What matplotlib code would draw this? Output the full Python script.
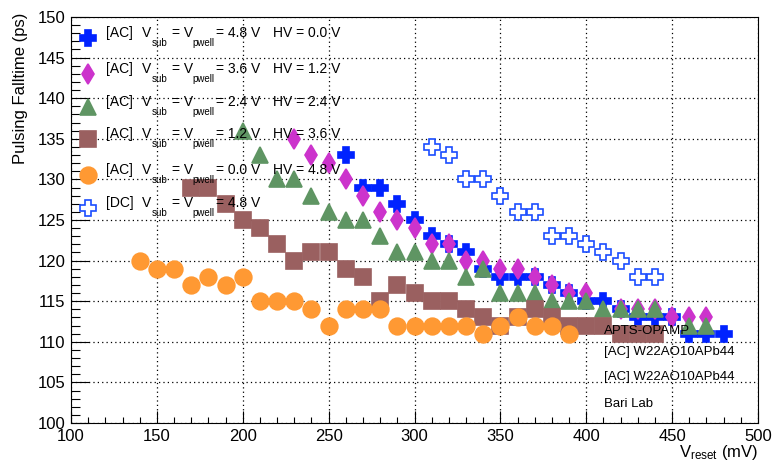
import matplotlib
matplotlib.use('Agg')
import matplotlib.pyplot as plt
from matplotlib.ticker import MultipleLocator

# Fonte parecida com Helvetica (estilo ROOT)
plt.rcParams['font.family'] = ['Liberation Sans', 'DejaVu Sans']
plt.rcParams['mathtext.fontset'] = 'custom'
plt.rcParams['mathtext.rm'] = 'Liberation Sans'
plt.rcParams['mathtext.default'] = 'regular'

# Dados (V_reset em mV, falltime em ps)
ac48_x = [260, 270, 280, 290, 300, 310, 320, 330, 340, 350, 360, 370, 380, 390, 400, 410, 420, 430, 440, 450, 460, 470, 480]
ac48_y = [133, 129, 129, 127, 125, 123, 122, 121, 119, 118, 118, 118, 117, 116, 115, 115, 114, 113, 113, 113, 111, 111, 111]

ac36_x = [230, 240, 250, 260, 270, 280, 290, 300, 310, 320, 330, 340, 350, 360, 370, 380, 390, 400, 420, 430, 440, 450, 460, 470]
ac36_y = [135, 133, 132, 130, 128, 126, 125, 124, 122, 122, 120, 120, 119, 119, 118, 117, 116, 116, 114, 114, 114, 113, 113, 113]

ac24_x = [200, 210, 220, 230, 240, 250, 260, 270, 280, 290, 300, 310, 320, 330, 340, 350, 360, 370, 380, 390, 400, 410, 420, 430, 440, 460, 470]
ac24_y = [136, 133, 130, 130, 128, 126, 125, 125, 123, 121, 121, 120, 120, 118, 119, 116, 116, 116, 115, 115, 115, 114, 114, 114, 114, 112, 112]

ac12_x = [170, 180, 190, 200, 210, 220, 230, 240, 250, 260, 270, 280, 290, 300, 310, 320, 330, 340, 350, 360, 370, 380, 390, 400, 410, 420, 430, 440]
ac12_y = [129, 129, 127, 125, 124, 122, 120, 121, 121, 119, 118, 115, 117, 116, 115, 115, 114, 113, 112, 113, 114, 113, 112, 112, 112, 111, 111, 111]

ac00_x = [140, 150, 160, 170, 180, 190, 200, 210, 220, 230, 240, 250, 260, 270, 280, 290, 300, 310, 320, 330, 340, 350, 360, 370, 380, 390]
ac00_y = [120, 119, 119, 117, 118, 117, 118, 115, 115, 115, 114, 112, 114, 114, 114, 112, 112, 112, 112, 112, 111, 112, 113, 112, 112, 111]

dc48_x = [310, 320, 330, 340, 350, 360, 370, 380, 390, 400, 410, 420, 430, 440]
dc48_y = [134, 133, 130, 130, 128, 126, 126, 123, 123, 122, 121, 120, 118, 118]

# Estilos: dados, marcador, preenchimento, borda, tamanho, modo, Vsub, HV
series = [
    (ac48_x, ac48_y, 'P', '#0022ff', '#0022ff', 12, '[AC]', '4.8', 'HV = 0.0 V'),
    (ac36_x, ac36_y, 'd', '#cc33cc', '#cc33cc', 10, '[AC]', '3.6', 'HV = 1.2 V'),
    (ac24_x, ac24_y, '^', '#5f9563', '#5f9563', 12, '[AC]', '2.4', 'HV = 2.4 V'),
    (ac12_x, ac12_y, 's', '#9a6060', '#9a6060', 11.5, '[AC]', '1.2', 'HV = 3.6 V'),
    (ac00_x, ac00_y, 'o', '#ff9933', '#ff9933', 12, '[AC]', '0.0', 'HV = 4.8 V'),
    (dc48_x, dc48_y, 'P', 'white', '#1a4dff', 12, '[DC]', '4.8', ''),
]

fig = plt.figure(figsize=(7.73, 4.61), dpi=100)
ax = fig.add_axes([0.0919, 0.0824, 0.8887, 0.8807])

for x, y, m, fc, ec, ms, mode, vsub, hv in series:
    ax.plot(x, y, linestyle='none', marker=m, markersize=ms,
            markerfacecolor=fc, markeredgecolor=ec, markeredgewidth=1.2)

ax.set_xlim(100, 500)
ax.set_ylim(100, 150)
ax.xaxis.set_major_locator(MultipleLocator(50))
ax.xaxis.set_minor_locator(MultipleLocator(10))
ax.yaxis.set_major_locator(MultipleLocator(5))
ax.yaxis.set_minor_locator(MultipleLocator(1))
ax.tick_params(axis='x', which='major', direction='in', length=8.5, width=0.8, labelsize=12, pad=4)
ax.tick_params(axis='x', which='minor', direction='in', length=4.5, width=0.8)
ax.tick_params(axis='y', which='major', direction='in', length=13, width=0.8, labelsize=12, pad=4)
ax.tick_params(axis='y', which='minor', direction='in', length=6.5, width=0.8)
ax.grid(True, which='major', linestyle=(0, (1, 2.5)), color='black', linewidth=0.9)
for s in ax.spines.values():
    s.set_linewidth(0.8)

ax.set_ylabel('Pulsing Falltime (ps)', fontsize=12, loc='top')
ax.yaxis.set_label_coords(-0.063, 1.01)
ax.set_xlabel('$V_{reset}$ (mV)', fontsize=12, loc='right', va='top')
ax.xaxis.set_label_coords(1.0, -0.048)


def axpos(px, py):
    # pixel da figura -> fracao dos eixos
    return (px - 71) / 687.0, (423 - py) / 406.0


# Legenda desenhada a mao (estilo TLegend)
rows = [38, 74, 107, 139, 175, 208]
for (x, y, m, fc, ec, ms, mode, vsub, hv), ry in zip(series, rows):
    mx, my = axpos(88, ry)
    ax.plot([mx], [my], transform=ax.transAxes, linestyle='none', marker=m, markersize=ms,
            markerfacecolor=fc, markeredgecolor=ec, markeredgewidth=1.2, clip_on=False)
    pieces = [(106, mode, 10, 0), (142, 'V', 10, 0), (152, 'sub', 7, 10),
              (172, '= V', 10, 0), (192, 'pwell', 7, 10), (216, '= ' + vsub + ' V', 10, 0)]
    if hv:
        pieces.append((273, hv, 10, 0))
    for px, t, fs, dy in pieces:
        tx, ty = axpos(px, ry - 5 + dy)
        ax.text(tx, ty, t, transform=ax.transAxes, fontsize=fs, va='center')

# Texto no canto inferior direito
info = ['APTS-OPAMP', '[AC] W22AO10APb44', '[AC] W22AO10APb44', 'Bari Lab']
info_y = [0.227, 0.175, 0.113, 0.047]
for t, ty in zip(info, info_y):
    ax.text(0.776, ty, t, transform=ax.transAxes, fontsize=9.5, va='center')

plt.savefig('out.png', dpi=100)
